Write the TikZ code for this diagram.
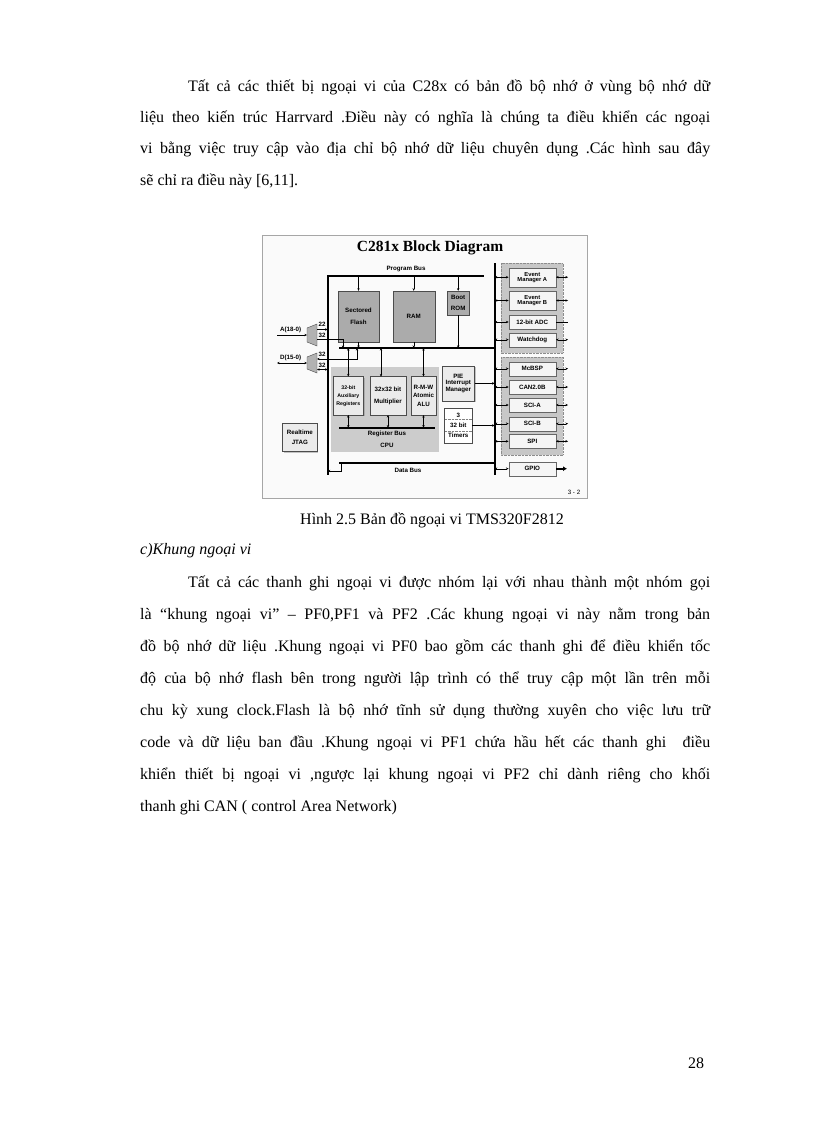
\documentclass[tikz,border=0pt]{standalone}
\usepackage{fontspec}
\setmainfont{Liberation Serif}
\newfontfamily\dsans{Liberation Sans}
\usetikzlibrary{arrows.meta,shadows}
\begin{document}
\begin{tikzpicture}[x=1pt,y=-1pt,
  line/.style={anchor=base west,inner sep=0pt,text width=570pt,align=justify,font=\fontsize{16}{20}\selectfont},
  dfont/.style={font=\dsans\bfseries\fontsize{6.2}{6.8}\selectfont},
  mem/.style={draw=black!70,fill=black!33,dfont,align=center,inner sep=0pt,drop shadow={shadow xshift=1pt,shadow yshift=-1pt,fill=black!55}},
  cpub/.style={draw=black!70,fill=black!8,dfont,align=center,inner sep=0pt,drop shadow={shadow xshift=1pt,shadow yshift=-1pt,fill=black!45}},
  per/.style={draw=black!60,fill=black!4,dfont,align=center,inner sep=0pt,minimum width=47pt,drop shadow={shadow xshift=1pt,shadow yshift=-1pt,fill=black!50}},
  grp/.style={draw=black!45,densely dotted,fill=black!22},
  bus/.style={line width=2.2pt},
  ar/.style={-{Stealth[length=2.6pt,width=2.4pt]},line width=0.4pt},
  dar/.style={{Stealth[length=2.6pt,width=2.4pt]}-{Stealth[length=2.6pt,width=2.4pt]},line width=0.4pt}]
\useasboundingbox (0,0) rectangle (816,1123);
\fill[white] (0,0) rectangle (816,1123);
\newcommand{\jl}[3]{\node[line] at (#1,#2) {\parfillskip=0pt\parindent=0pt #3\par};}
\newcommand{\jli}[3]{\node[line,text width=522pt] at (#1,#2) {\parfillskip=0pt\parindent=0pt #3\par};}
% paragraph 1
\jli{188}{92}{Tất cả các thiết bị ngoại vi của C28x có bản đồ bộ nhớ ở vùng bộ nhớ dữ}
\jl{140}{123}{liệu theo kiến trúc Harrvard .Điều này có nghĩa là chúng ta điều khiển các ngoại}
\jl{140}{154}{vi bằng việc truy cập vào địa chỉ bộ nhớ dữ liệu chuyên dụng .Các hình sau đây}
\node[anchor=base west,inner sep=0pt,font=\fontsize{16}{20}\selectfont] (l4) at (140,186) {sẽ chỉ ra điều này [6,11].};
% caption
\node[anchor=base,inner sep=0pt,font=\fontsize{16}{20}\selectfont] (cap) at (432,524) {Hình 2.5 Bản đồ ngoại vi TMS320F2812};
\node[anchor=base west,inner sep=0pt,font=\fontsize{16}{20}\selectfont\itshape] (sec) at (140,554) {c)Khung ngoại vi};
% paragraph 2
\jli{188}{587}{Tất cả các thanh ghi ngoại vi được nhóm lại với nhau thành một nhóm gọi}
\jl{140}{619}{là “khung ngoại vi” – PF0,PF1 và PF2 .Các khung ngoại vi này nằm trong bản}
\jl{140}{651}{đồ bộ nhớ dữ liệu .Khung ngoại vi PF0 bao gồm các thanh ghi để điều khiển tốc}
\jl{140}{683}{độ của bộ nhớ flash bên trong người lập trình có thể truy cập một lần trên mỗi}
\jl{140}{715}{chu kỳ xung clock.Flash là bộ nhớ tĩnh sử dụng thường xuyên cho việc lưu trữ}
\jl{140}{747}{code và dữ liệu ban đầu .Khung ngoại vi PF1 chứa hầu hết các thanh ghi\ \ điều}
\jl{140}{779}{khiển thiết bị ngoại vi ,ngược lại khung ngoại vi PF2 chỉ dành riêng cho khối}
\node[anchor=base west,inner sep=0pt,font=\fontsize{16}{20}\selectfont] (l12) at (140,811) {thanh ghi CAN ( control Area Network)};
\node[anchor=base west,inner sep=0pt,font=\fontsize{16}{20}\selectfont] (pg) at (688,1068) {28};
% ===== diagram =====
\draw[black!35,fill=black!2] (262,235) rectangle (587,498);
\node[font=\fontsize{15.5}{16}\selectfont\bfseries] (title) at (430,248) {C281x Block Diagram};
\node[dfont] (pbl) at (406,269) {Program Bus};
\node[dfont] (dbl) at (408,470) {Data Bus};
\node[dfont] (pg32) at (574,492) {\mdseries 3 - 2};
% groups
\draw[grp] (501,263) rectangle (562.7,353);
\draw[grp] (501,356.7) rectangle (562.7,455);
\fill[black!20] (331,366.7) rectangle (439,451.7);
% memories
\node[mem,minimum width=41pt,minimum height=51pt] (flash) at (358.5,316.5) {Sectored\\[5pt]Flash};
\node[mem,minimum width=42pt,minimum height=51pt] (ram) at (413.7,316.5) {RAM};
\node[mem,minimum width=22pt,minimum height=24pt] (rom) at (458.2,303) {Boot\\[4pt]ROM};
% cpu
\node[cpub,minimum width=30.7pt,minimum height=38.3pt,font=\dsans\bfseries\fontsize{5.2}{6}\selectfont] (aux) at (348.3,395.8) {32-bit\\[2pt]Auxiliary\\[2pt]Registers};
\node[cpub,minimum width=36.6pt,minimum height=38.3pt] (mul) at (388,395.8) {32x32 bit\\[5pt]Multiplier};
\node[cpub,minimum width=25pt,minimum height=38.3pt] (alu) at (423.5,395.8) {R-M-W\\[2pt]Atomic\\[2pt]ALU};
\node[dfont] (rbl) at (387,434) {Register Bus};
\node[dfont] (cpul) at (387,445.7) {CPU};
\node[cpub,minimum width=32.7pt,minimum height=34.7pt] (pie) at (458.3,383.4) {PIE\\Interrupt\\Manager};
\node[cpub,fill=white,minimum width=27.3pt,minimum height=35.6pt] (tim) at (458.3,425.5) {3\\[3pt]32 bit\\[3pt]Timers};
\draw[black!50,densely dotted] (444.7,419.5) -- (472,419.5) (444.7,431.5) -- (472,431.5);
\node[cpub,minimum width=34.3pt,minimum height=28.7pt] (jtag) at (299.8,437.3) {Realtime\\[4pt]JTAG};
% peripherals
\node[per,minimum height=19pt,font=\dsans\bfseries\fontsize{5.8}{5}\selectfont] (eva) at (532.3,277.2) {Event\\Manager A};
\node[per,minimum height=19pt,font=\dsans\bfseries\fontsize{5.8}{5}\selectfont] (evb) at (532.3,300.5) {Event\\Manager B};
\node[per,minimum height=14pt] (adc) at (532.3,322) {12-bit ADC};
\node[per,minimum height=14pt] (wd) at (532.3,339.7) {Watchdog};
\node[per,minimum height=14pt] (mcb) at (532.3,368.7) {McBSP};
\node[per,minimum height=14pt] (can) at (532.3,387) {CAN2.0B};
\node[per,minimum height=14.6pt] (scia) at (532.3,405) {SCI-A};
\node[per,minimum height=14pt] (scib) at (532.3,423.7) {SCI-B};
\node[per,minimum height=14pt] (spi) at (532.3,441.3) {SPI};
\node[per,minimum height=14pt] (gpio) at (532.3,468.7) {GPIO};
% buses
\coordinate (pb1) at (327.7,275.7); \coordinate (pb2) at (483.7,275.7);
\coordinate (lb2) at (327.7,475);
\coordinate (rb1) at (494.7,263); \coordinate (rb2) at (494.7,475);
\coordinate (mb1) at (339,348); \coordinate (mb2) at (494.7,348);
\coordinate (db1) at (339,463); \coordinate (db2) at (494.7,463);
\coordinate (rg1) at (339,427.7); \coordinate (rg2) at (434.7,427.7);
\draw[bus] (pb2) -- (pb1) -- (lb2);
\draw[bus] (rb1) -- (rb2);
\draw[bus] (mb1) -- (mb2);
\draw[bus] (db1) -- (db2);
\draw[bus] (rg1) -- (rg2);
% program bus to memories
\foreach \n/\x in {flash/358.5,ram/413.7,rom/458.2}{\draw[ar] (\x,275.7) -- (\x,0|-\n.north);}
\draw[ar] (flash.south) -- (flash.south|-mb1);
\draw[ar] (ram.south) -- (ram.south|-mb1);
\draw[ar] (rom.south) -- (rom.south|-mb1);
% mid bus to cpu
\draw[dar] (348.3,348) -- (aux.north);
\draw[dar] (381,348) -- (381,376.6);
\draw[dar] (423.5,348) -- (alu.north);
\foreach \x in {348.3,388,423.5}{\draw[dar] (\x,427.7) -- (\x,415);}
% pie & timers to right bus
\draw[ar] (pie.east) -- (rb2|-pie.east);
\draw[ar] (tim.east) -- (rb2|-tim.east);
% right bus to peripherals
\foreach \n in {eva,evb,adc,wd,mcb,can,scia,scib,spi,gpio}{
  \draw[dar] (rb2|-\n.west) -- (\n.west);}
\foreach \n in {eva,evb,wd,mcb,can,scia,scib,spi}{
  \draw[dar] (\n.east) -- (568,0|-\n.east);}
\draw[line width=0.6pt] (adc.east) -- (568,322);
\draw[-{Latex[length=4pt,width=5pt]},line width=2.2pt] (gpio.east) -- (567,468.7);
% data bus to left bus
\draw[ar] (341.5,463) -- (341.5,471) -- (327.7,471);
% muxes
\draw[black!70,fill=black!30] (307,328) -- (317,324) -- (317,346) -- (307,342) -- cycle;
\draw[black!70,fill=black!30] (307,357) -- (317,353) -- (317,373) -- (307,369) -- cycle;
\node[coordinate] (ma) at (307,335) {};
\node[coordinate] (md) at (307,363) {};
\node[dfont,anchor=south west,inner sep=1pt] (al) at (279,334) {A(18-0)};
\node[dfont,anchor=south west,inner sep=1pt] (dl) at (279,362) {D(15-0)};
\draw[ar] (277,335) -- (ma);
\draw[dar] (277,363) -- (md);
\draw[ar] (317,329.5) -- (327.7,329.5);
\draw[ar] (317,339) -- (343,339) -- (343,348);
\draw[dar] (317,359) -- (357,359) -- (357,348);
\draw[dar] (317,369.5) -- (327.7,369.5);
\node[dfont,fill=black!2,inner sep=0.3pt] (n22) at (322,324) {22};
\node[dfont,fill=black!2,inner sep=0.3pt] (n32a) at (322,335) {32};
\node[dfont,fill=black!2,inner sep=0.3pt] (n32b) at (322,354) {32};
\node[dfont,fill=black!2,inner sep=0.3pt] (n32c) at (322,365.5) {32};
\end{tikzpicture}
\end{document}
